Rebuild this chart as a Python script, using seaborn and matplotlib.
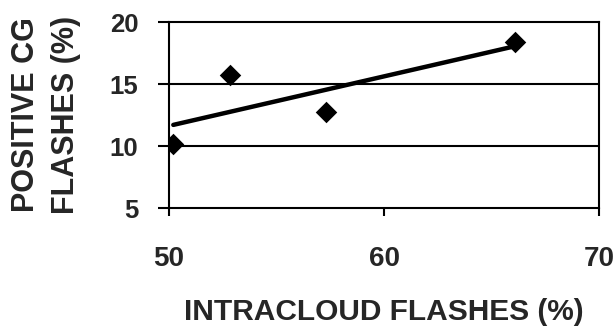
import numpy as np
import pandas as pd
import seaborn as sns
from matplotlib import pyplot as plt

# values
intracloud = [50.2, 52.85, 57.3, 66.1]
positive_cg = [10.2, 15.75, 12.75, 18.35]
x_ticks = [50, 60, 70]
y_ticks = [5, 10, 15, 20]

data = pd.DataFrame({"intracloud": intracloud, "positive_cg": positive_cg})

sns.set_theme(style="white")
plt.rcParams['font.family'] = ['Liberation Sans', 'DejaVu Sans']
plt.rcParams['font.weight'] = 'bold'

fig = plt.figure(figsize=(6.15, 3.33), dpi=100)
ax = fig.add_axes([169 / 615, 1 - 208 / 333, 430 / 615, 186 / 333])

sns.regplot(data=data, x="intracloud", y="positive_cg", ci=None, ax=ax,
            marker="D", color="black",
            scatter_kws={"s": 120, "linewidths": 0, "alpha": 1, "zorder": 4},
            line_kws={"lw": 3.2, "zorder": 3})

ax.set_xlim(50, 70)
ax.set_ylim(5, 20)
ax.set_xticks(x_ticks)
ax.set_yticks(y_ticks)
ax.set_xticklabels([str(v) for v in x_ticks], fontsize=20, fontweight='bold')
ax.set_yticklabels([str(v) for v in y_ticks], fontsize=18.5, fontweight='bold')

for y in y_ticks[1:-1]:
    ax.axhline(y, color="black", lw=1.5, zorder=1)

for s in ax.spines.values():
    s.set_color("black")
    s.set_linewidth(1.5)
    s.set_visible(True)

ax.tick_params(axis="y", direction="out", length=8, width=1.5, pad=14, color="black", left=True)
ax.tick_params(axis="x", direction="out", length=6, width=1.5, pad=21, color="black", bottom=True)

ax.set_xlabel("INTRACLOUD FLASHES (%)", fontsize=21.5, fontweight='bold')
ax.set_ylabel("POSITIVE CG\nFLASHES (%)", fontsize=22, fontweight='bold', linespacing=1.4)
ax.xaxis.set_label_coords(0.5, -0.56)
ax.xaxis.label.set_va("center")
ax.yaxis.set_label_coords(-0.286, 0.5)
ax.yaxis.label.set_va("center")

fig.savefig("out.png", dpi=100)
